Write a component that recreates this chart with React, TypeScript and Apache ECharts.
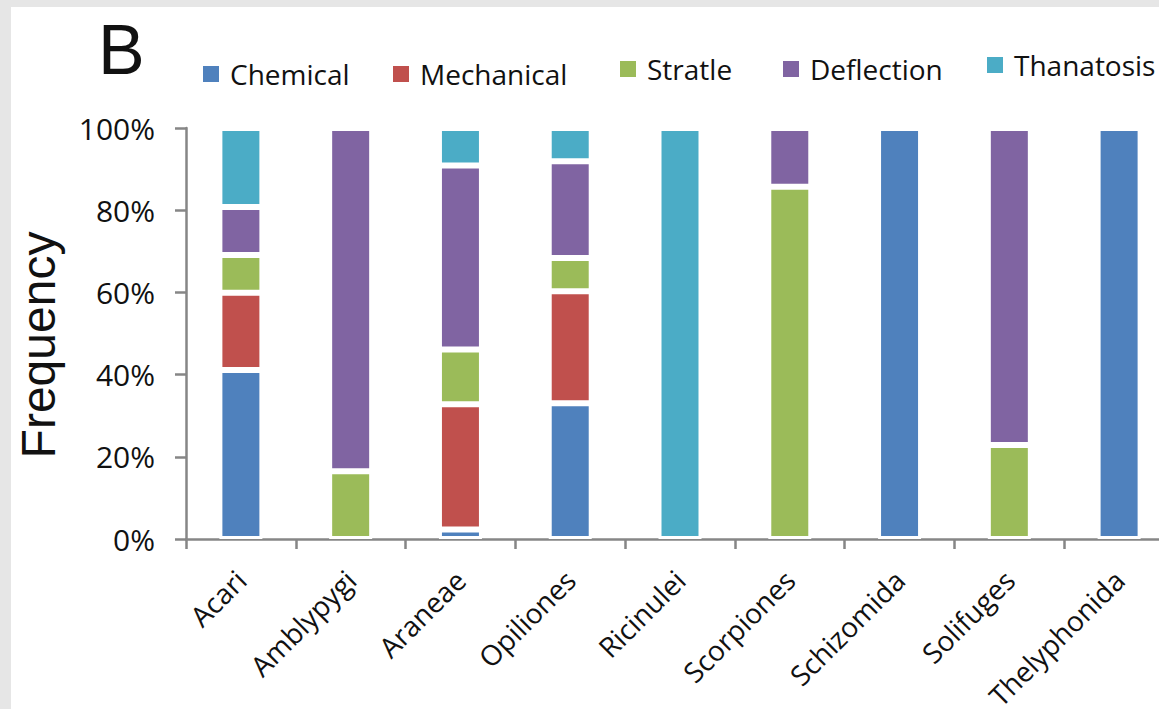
import React, { useEffect, useRef } from "react";
import * as echarts from "echarts";

const categories = ["Acari", "Amblypygi", "Araneae", "Opiliones", "Ricinulei", "Scorpiones", "Schizomida", "Solifuges", "Thelyphonida"];
const seriesNames = ["Chemical", "Mechanical", "Stratle", "Deflection", "Thanatosis"];
const chemical = [41.1, 0, 2.3, 33.0, 0, 0, 100, 0, 100];
const mechanical = [18.8, 0, 30.5, 27.3, 0, 0, 0, 0, 0];
const stratle = [9.2, 16.5, 13.3, 8.1, 0, 85.7, 0, 22.9, 0];
const deflection = [11.7, 83.5, 44.8, 23.5, 0, 14.3, 0, 77.1, 0];
const thanatosis = [19.2, 0, 9.1, 8.1, 100, 0, 0, 0, 0];
const yTicks = [0, 20, 40, 60, 80, 100];

const colors = ["#4F81BD", "#C0504D", "#9BBB59", "#8064A2", "#4BACC6"];
const legendPos = [
  { left: 203, top: 60 },
  { left: 393, top: 60 },
  { left: 620, top: 55 },
  { left: 783, top: 55 },
  { left: 987, top: 51 },
];

export default function App() {
  const ref = useRef<HTMLDivElement>(null);
  useEffect(() => {
    if (!ref.current) return;
    const chart = echarts.init(ref.current, undefined, { renderer: "svg" });
    const values = [chemical, mechanical, stratle, deflection, thanatosis];
    const font = "'Open Sans', sans-serif";
    chart.setOption({
      animation: false,
      backgroundColor: "#e6e6e6",
      graphic: [
        { type: "rect", shape: { x: 11, y: 7, width: 1160, height: 710 }, style: { fill: "#ffffff" }, z: -10, silent: true },
        { type: "text", left: 98, top: 15, style: { text: "B", font: "70px 'Liberation Sans', Arial, sans-serif", fill: "#111" }, z: 10 },
      ],
      legend: seriesNames.map((name, i) => ({
        data: [name],
        left: legendPos[i].left,
        top: legendPos[i].top,
        padding: 0,
        itemWidth: 16,
        itemHeight: 16,
        icon: "rect",
        itemStyle: { borderWidth: 0 },
        textStyle: { fontFamily: font, fontSize: 28, color: "#111", lineHeight: 16, padding: [0, 0, 0, 6] },
      })),
      grid: { left: 186, top: 128, width: 988, height: 411, containLabel: false, outerBoundsMode: "none" },
      xAxis: {
        type: "category",
        data: categories,
        axisLine: { lineStyle: { color: "#868686", width: 2.5 } },
        axisTick: { show: true, length: 10, lineStyle: { color: "#868686", width: 2.5 } },
        axisLabel: { rotate: 45, fontFamily: font, fontSize: 28, color: "#111", margin: 36, interval: 0, padding: [20, 0, 0, 0] },
      },
      yAxis: {
        type: "value",
        min: yTicks[0],
        max: yTicks[yTicks.length - 1],
        interval: 20,
        name: "Frequency",
        nameLocation: "middle",
        nameGap: 124,
        nameTextStyle: { fontFamily: "'Liberation Sans', Arial, sans-serif", fontSize: 48, color: "#111", padding: [0, 23, 0, 0] },
        axisLine: { show: true, lineStyle: { color: "#868686", width: 2.5 } },
        axisTick: { show: true, length: 11, lineStyle: { color: "#868686", width: 2.5 } },
        axisLabel: { formatter: "{value}%", fontFamily: font, fontSize: 30, color: "#111", margin: 31 },
        splitLine: { show: false },
      },
      series: seriesNames.map((name, i) => ({
        name,
        type: "bar",
        stack: "total",
        barWidth: 43,
        data: values[i].map((v) => (v === 0 ? null : v)),
        itemStyle: { color: colors[i], borderColor: "#ffffff", borderWidth: 3 },
      })),
    });
    return () => chart.dispose();
  }, []);
  return <div ref={ref} style={{ position: "fixed", left: 0, top: 0, width: 1159, height: 709 }} />;
}
